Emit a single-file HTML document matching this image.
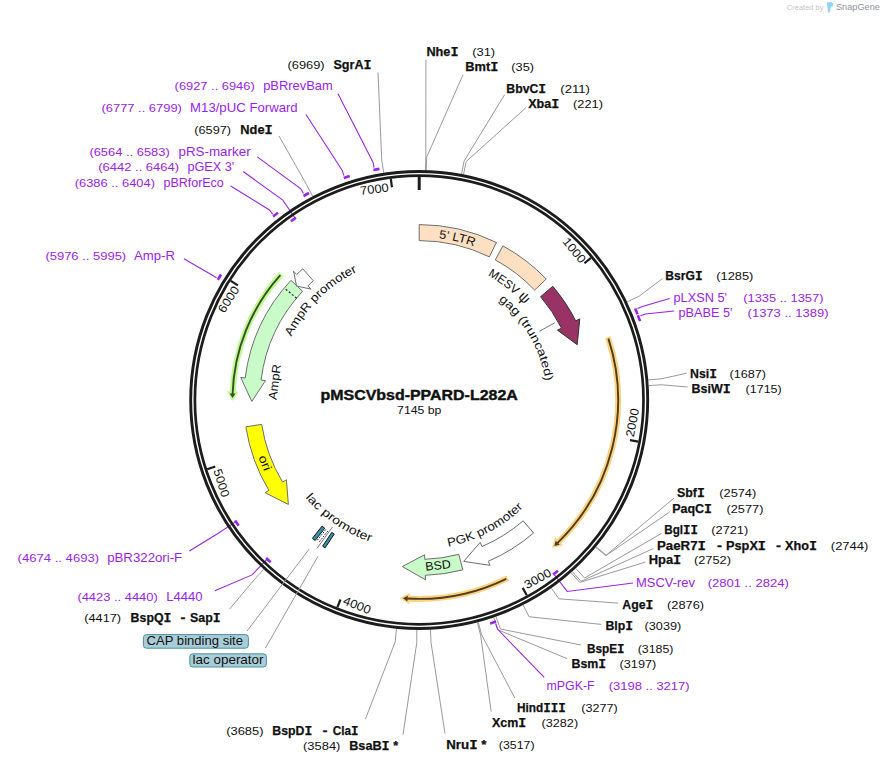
<!DOCTYPE html><html><head><meta charset="utf-8"><style>html,body{margin:0;padding:0;background:#fff}svg{display:block}</style></head><body><svg width="884" height="764" viewBox="0 0 884 764" font-family="Liberation Sans, sans-serif">
<rect width="884" height="764" fill="#fff"/>
<g fill="none" stroke="#9a9a9a" stroke-width="1">
<polyline points="383.74,172.75 381.74,159.90 378.00,72.50"/>
<polyline points="312.60,196.19 306.58,184.67 279.00,136.00"/>
<polyline points="425.47,170.09 425.82,157.09 425.90,59.90"/>
<polyline points="426.28,170.11 426.68,157.12 463.00,74.80"/>
<polyline points="461.63,173.95 464.03,161.17 504.60,94.70"/>
<polyline points="463.62,174.33 466.13,161.57 525.70,107.90"/>
<polyline points="627.22,301.87 638.97,296.32 662.30,278.70"/>
<polyline points="648.32,379.95 661.28,378.82 686.70,373.20"/>
<polyline points="648.75,385.60 661.72,384.78 687.60,387.00"/>
<polyline points="596.19,546.89 606.19,555.19 674.00,498.10"/>
<polyline points="595.80,547.35 605.78,555.68 669.60,512.10"/>
<polyline points="575.77,568.48 584.62,578.00 661.50,533.40"/>
<polyline points="572.33,571.61 580.99,581.31 653.40,548.50"/>
<polyline points="571.12,572.68 579.71,582.44 645.30,562.10"/>
<polyline points="551.43,588.19 558.90,598.83 617.90,603.10"/>
<polyline points="523.19,605.15 529.07,616.74 601.20,624.40"/>
<polyline points="496.07,616.78 500.41,629.03 580.90,645.00"/>
<polyline points="493.78,617.57 497.99,629.87 567.20,658.70"/>
<polyline points="478.30,622.28 481.64,634.84 514.80,698.00"/>
<polyline points="477.32,622.54 480.60,635.11 491.20,711.70"/>
<polyline points="430.42,629.73 431.06,642.71 445.00,733.50"/>
<polyline points="416.87,629.99 416.74,642.99 403.00,734.60"/>
<polyline points="396.48,628.88 395.20,641.81 365.40,719.20"/>
<polyline points="263.67,569.44 254.88,579.01 229.50,609.10"/>
</g>
<g fill="none" stroke="#9a22f0">
<path d="M373.40,170.02 A234.5,234.5 0 0 1 379.50,168.89" stroke-width="2.6"/>
<polyline points="374.10,167.64 373.09,162.43 338.00,93.75" stroke-width="1.05"/>
<path d="M343.84,177.94 A234.5,234.5 0 0 1 349.74,176.02" stroke-width="2.6"/>
<polyline points="343.93,175.59 342.25,170.56 306.00,114.50" stroke-width="1.05"/>
<path d="M303.54,196.01 A234.5,234.5 0 0 1 308.97,193.02" stroke-width="2.6"/>
<polyline points="303.46,193.53 300.87,188.90 257.30,156.80" stroke-width="1.05"/>
<path d="M290.90,221.28 A220.0,220.0 0 0 1 295.99,217.74" stroke-width="2.6"/>
<polyline points="295.19,218.28 282.78,200.11 243.20,171.50" stroke-width="1.05"/>
<path d="M273.07,216.60 A234.5,234.5 0 0 1 277.97,212.80" stroke-width="2.6"/>
<polyline points="272.69,214.10 269.41,209.93 230.70,186.00" stroke-width="1.05"/>
<path d="M217.82,279.85 A234.5,234.5 0 0 1 221.07,274.57" stroke-width="2.6"/>
<polyline points="216.52,277.74 211.98,275.00 183.90,258.80" stroke-width="1.05"/>
<path d="M635.16,308.60 A234.5,234.5 0 0 1 637.50,314.34" stroke-width="2.6"/>
<polyline points="637.51,308.52 642.40,306.47 669.70,298.60" stroke-width="1.05"/>
<path d="M637.87,315.29 A234.5,234.5 0 0 1 640.03,321.10" stroke-width="2.6"/>
<polyline points="640.44,315.86 645.40,313.98 674.20,311.00" stroke-width="1.05"/>
<path d="M557.95,570.73 A220.0,220.0 0 0 1 553.08,574.57" stroke-width="2.6"/>
<polyline points="553.78,574.04 567.23,591.44 633.00,583.00" stroke-width="1.05"/>
<path d="M496.12,621.53 A234.5,234.5 0 0 1 490.23,623.48" stroke-width="2.6"/>
<polyline points="495.75,623.98 497.46,628.99 544.20,677.40" stroke-width="1.05"/>
<path d="M238.61,525.65 A220.0,220.0 0 0 1 235.14,520.51" stroke-width="2.6"/>
<polyline points="235.84,521.57 217.50,533.72 189.40,551.00" stroke-width="1.05"/>
<path d="M270.65,562.27 A220.0,220.0 0 0 1 266.13,558.02" stroke-width="2.6"/>
<polyline points="267.18,559.03 251.98,574.93 214.90,590.70" stroke-width="1.05"/>
</g>
<g stroke="#6e6e6e" stroke-width="1" stroke-linejoin="miter">
<path d="M419.20,224.60 A175.4,175.4 0 0 1 496.37,242.49 L489.33,256.85 A159.4,159.4 0 0 0 419.20,240.60 Z" fill="#fde0c2"/>
<path d="M502.89,245.86 A175.4,175.4 0 0 1 546.22,279.04 L534.63,290.07 A159.4,159.4 0 0 0 495.26,259.92 Z" fill="#fde0c2"/>
<path d="M552.77,286.32 A175.4,175.4 0 0 1 575.76,320.92 L579.78,318.89 L577.19,344.67 L557.46,330.16 L561.48,328.13 A159.4,159.4 0 0 0 540.59,296.69 Z" fill="#993366" stroke="#333"/>
<path d="M290.92,280.38 A175.4,175.4 0 0 0 245.18,378.02 L240.72,377.45 L251.81,401.46 L265.52,380.59 L261.06,380.02 A159.4,159.4 0 0 1 302.62,291.29 Z" fill="#c9fbc9"/>
<path d="M302.75,268.84 A175.4,175.4 0 0 0 296.70,274.47 L293.56,271.25 L296.57,286.05 L311.02,289.14 L307.87,285.92 A159.4,159.4 0 0 1 313.37,280.80 Z" fill="#fff"/>
<path d="M245.86,426.83 A175.4,175.4 0 0 0 268.85,490.34 L265.00,492.66 L288.37,504.44 L286.42,479.78 L282.57,482.10 A159.4,159.4 0 0 1 261.68,424.39 Z" fill="#ffff00"/>
<path d="M533.58,532.98 A175.4,175.4 0 0 1 488.30,561.22 L490.07,565.35 L463.65,561.39 L480.22,542.37 L481.99,546.51 A159.4,159.4 0 0 0 523.14,520.85 Z" fill="#fff"/>
<path d="M462.82,569.89 A175.4,175.4 0 0 1 425.32,575.29 L425.48,579.79 L402.28,566.54 L424.61,554.81 L424.76,559.30 A159.4,159.4 0 0 0 458.84,554.39 Z" fill="#c9fbc9"/>
</g>
<line x1="296.56" y1="298.18" x2="284.25" y2="287.96" stroke="#222" stroke-width="1.2" stroke-dasharray="2,2"/>
<path d="M607.93,337.22 A198.9,198.9 0 0 1 558.81,541.67" fill="none" stroke="#ffd27f" stroke-width="6"/>
<path d="M563.17,545.37 L552.03,548.04 L555.15,537.27 Z" fill="#ffd27f"/>
<path d="M608.40,338.64 A198.9,198.9 0 0 1 557.37,543.07" fill="none" stroke="#4d3d22" stroke-width="1.9"/>
<path d="M559.75,544.80 L554.40,545.89 L555.71,540.64 Z" fill="#4d3d22"/>
<path d="M507.64,578.16 A198.9,198.9 0 0 1 409.06,598.64" fill="none" stroke="#ffd27f" stroke-width="6"/>
<path d="M409.29,604.36 L399.79,597.95 L409.84,592.97 Z" fill="#ffd27f"/>
<path d="M506.29,578.82 A198.9,198.9 0 0 1 407.07,598.53" fill="none" stroke="#4d3d22" stroke-width="1.9"/>
<path d="M407.40,601.45 L402.98,598.24 L407.74,595.66 Z" fill="#4d3d22"/>
<path d="M281.33,274.11 A186.7,186.7 0 0 0 232.67,392.01" fill="none" stroke="#bcfc8c" stroke-width="6"/>
<path d="M227.00,391.25 L232.50,401.30 L238.39,391.77 Z" fill="#bcfc8c"/>
<path d="M280.32,275.22 A186.7,186.7 0 0 0 232.60,394.00" fill="none" stroke="#3a4c2c" stroke-width="1.9"/>
<path d="M229.71,393.40 L232.51,398.10 L235.51,393.61 Z" fill="#3a4c2c"/>
<line x1="539.4" y1="331.3" x2="554.6" y2="322.9" stroke="#777" stroke-width="1"/>
<circle cx="419.2" cy="400.0" r="228.5" fill="none" stroke="#1c1c1c" stroke-width="2.9"/>
<circle cx="419.2" cy="400.0" r="224.3" fill="none" stroke="#1c1c1c" stroke-width="2.7"/>
<g stroke="#1c1c1c" stroke-width="2.2">
<line x1="419.20" y1="177.00" x2="419.20" y2="190.00" stroke-width="3"/>
<line x1="590.99" y1="257.81" x2="584.44" y2="263.23"/>
<line x1="638.27" y1="441.67" x2="629.92" y2="440.08"/>
<line x1="526.79" y1="595.33" x2="522.68" y2="587.89"/>
<line x1="337.33" y1="607.43" x2="340.45" y2="599.52"/>
<line x1="207.21" y1="469.19" x2="215.29" y2="466.55"/>
<line x1="230.73" y1="280.81" x2="237.91" y2="285.35"/>
<line x1="390.84" y1="178.81" x2="391.92" y2="187.24"/>
</g>
<text transform="rotate(50.38 419.2 400.0)" x="388.40" y="189.20" font-size="12" fill="#111" textLength="28.8" lengthAdjust="spacingAndGlyphs">1000</text>
<text transform="rotate(-79.23 419.2 400.0)" x="422.40" y="617.80" font-size="12" fill="#111" textLength="28.8" lengthAdjust="spacingAndGlyphs">2000</text>
<text transform="rotate(-28.85 419.2 400.0)" x="422.40" y="617.80" font-size="12" fill="#111" textLength="28.8" lengthAdjust="spacingAndGlyphs">3000</text>
<text transform="rotate(21.54 419.2 400.0)" x="422.40" y="617.80" font-size="12" fill="#111" textLength="28.8" lengthAdjust="spacingAndGlyphs">4000</text>
<text transform="rotate(71.92 419.2 400.0)" x="422.40" y="617.80" font-size="12" fill="#111" textLength="28.8" lengthAdjust="spacingAndGlyphs">5000</text>
<text transform="rotate(302.31 419.2 400.0)" x="388.00" y="189.20" font-size="12" fill="#111" textLength="28.8" lengthAdjust="spacingAndGlyphs">6000</text>
<text transform="rotate(352.69 419.2 400.0)" x="387.20" y="189.20" font-size="12" fill="#111" textLength="28.8" lengthAdjust="spacingAndGlyphs">7000</text>
<path id="tp97" d="M438.78,238.18 A163.0,163.0 0 0 1 474.15,246.54" fill="none"/>
<text font-size="12" fill="#111"><textPath href="#tp97" textLength="36.41" lengthAdjust="spacingAndGlyphs">5&#x2019; LTR</textPath></text>
<path id="tp99" d="M487.71,275.39 A142.2,142.2 0 0 1 524.54,304.48" fill="none"/>
<text font-size="12" fill="#111"><textPath href="#tp99" textLength="47.16" lengthAdjust="spacingAndGlyphs">MESV <tspan font-size="14.5">&#x3C8;</tspan></textPath></text>
<path id="tp101" d="M498.57,300.22 A127.5,127.5 0 0 1 545.30,381.15" fill="none"/>
<text font-size="12" fill="#111"><textPath href="#tp101" textLength="95.69" lengthAdjust="spacingAndGlyphs">gag (truncated)</textPath></text>
<path id="tp103" d="M291.45,336.86 A142.5,142.5 0 0 1 357.18,271.70" fill="none"/>
<text font-size="12" fill="#111"><textPath href="#tp103" textLength="94.26" lengthAdjust="spacingAndGlyphs">AmpR promoter</textPath></text>
<text transform="rotate(277.10 419.2 400.0)" x="401.35" y="258.30" font-size="12" fill="#111" textLength="35.70" lengthAdjust="spacingAndGlyphs">AmpR</text>
<text transform="rotate(67.80 419.2 400.0)" x="411.35" y="570.50" font-size="12" fill="#111" textLength="15.70" lengthAdjust="spacingAndGlyphs">ori</text>
<path id="tp107" d="M305.31,497.62 A150.0,150.0 0 0 0 370.36,541.83" fill="none"/>
<text font-size="12" fill="#111"><textPath href="#tp107" textLength="79.59" lengthAdjust="spacingAndGlyphs">lac promoter</textPath></text>
<path id="tp109" d="M448.26,546.75 A149.6,149.6 0 0 0 523.12,507.61" fill="none"/>
<text font-size="12" fill="#111"><textPath href="#tp109" textLength="85.64" lengthAdjust="spacingAndGlyphs">PGK promoter</textPath></text>
<text transform="rotate(-6.50 419.2 400.0)" x="406.35" y="570.50" font-size="12" fill="#111" textLength="25.70" lengthAdjust="spacingAndGlyphs">BSD</text>
<line x1="317.33" y1="540.24" x2="326.00" y2="529.22" stroke="#222" stroke-width="1" stroke-dasharray="1.6,1.4"/>
<line x1="319.38" y1="541.83" x2="328.05" y2="530.81" stroke="#222" stroke-width="1" stroke-dasharray="1.6,1.4"/>
<line x1="317.0" y1="548.4" x2="332.4" y2="527.1" stroke="#555" stroke-width="0.8"/>
<polygon points="315.18,540.48 324.78,528.28 322.02,526.12 312.42,538.32" fill="#3a8ca8" stroke="#1a1a1a" stroke-width="1"/>
<polygon points="325.15,547.83 334.25,534.03 331.75,532.37 322.65,546.17" fill="#3a8ca8" stroke="#1a1a1a" stroke-width="1"/>
<g stroke="#9a9a9a" stroke-width="1" fill="none">
<polyline points="247.0,631.1 309.2,549.0"/>
<polyline points="265.4,648.1 318.0,556.2"/>
</g>
<rect x="143.4" y="634.6" width="105.0" height="13.6" rx="3" ry="3" fill="#a9cdd7" stroke="#4b8fa5" stroke-width="1"/>
<rect x="189.8" y="653.8" width="76.6" height="13.2" rx="3" ry="3" fill="#a9cdd7" stroke="#4b8fa5" stroke-width="1"/>
<text x="146.60" y="645.00" font-size="12.2" font-weight="normal" fill="#111" textLength="96.40" lengthAdjust="spacingAndGlyphs">CAP binding site</text>
<text x="192.60" y="664.10" font-size="12.2" font-weight="normal" fill="#111" textLength="70.90" lengthAdjust="spacingAndGlyphs">lac operator</text>
<text x="786.8" y="10.3" font-size="8" fill="#c4c4c4" textLength="36.7" lengthAdjust="spacingAndGlyphs">Created by</text>
<path d="M826.9,2.4 L831.2,2.0 L833.5,3.8 L833.0,6.2 L831.0,6.8 L829.7,12.4 L828.0,12.3 Z" fill="#8ed5f8"/>
<text x="835.9" y="10.3" font-size="8.6" fill="#8f959c" textLength="44.1" lengthAdjust="spacingAndGlyphs">SnapGene</text>
<text x="287.50" y="68.80" font-size="11.3" font-weight="normal" fill="#111" textLength="37.10" lengthAdjust="spacingAndGlyphs">(6969)</text>
<text x="333.40" y="68.80" font-size="12.6" font-weight="bold" fill="#111" stroke="#111" stroke-width="0.25" textLength="38.10" lengthAdjust="spacingAndGlyphs">SgrA<tspan font-family="Liberation Mono" font-size="1.06em">I</tspan></text>
<text x="174.60" y="90.40" font-size="11.3" font-weight="normal" fill="#9a22f0" textLength="80.10" lengthAdjust="spacingAndGlyphs">(6927 .. 6946)</text>
<text x="263.20" y="90.40" font-size="12.6" font-weight="normal" fill="#9a22f0" textLength="69.60" lengthAdjust="spacingAndGlyphs">pBRrevBam</text>
<text x="101.50" y="112.40" font-size="11.3" font-weight="normal" fill="#9a22f0" textLength="80.40" lengthAdjust="spacingAndGlyphs">(6777 .. 6799)</text>
<text x="190.10" y="112.40" font-size="12.6" font-weight="normal" fill="#9a22f0" textLength="107.60" lengthAdjust="spacingAndGlyphs">M13/pUC Forward</text>
<text x="194.30" y="134.40" font-size="11.3" font-weight="normal" fill="#111" textLength="36.80" lengthAdjust="spacingAndGlyphs">(6597)</text>
<text x="240.30" y="134.40" font-size="12.6" font-weight="bold" fill="#111" stroke="#111" stroke-width="0.25" textLength="32.40" lengthAdjust="spacingAndGlyphs">Nde<tspan font-family="Liberation Mono" font-size="1.06em">I</tspan></text>
<text x="89.40" y="156.20" font-size="11.3" font-weight="normal" fill="#9a22f0" textLength="80.30" lengthAdjust="spacingAndGlyphs">(6564 .. 6583)</text>
<text x="178.50" y="156.20" font-size="12.6" font-weight="normal" fill="#9a22f0" textLength="72.10" lengthAdjust="spacingAndGlyphs">pRS-marker</text>
<text x="98.20" y="171.20" font-size="11.3" font-weight="normal" fill="#9a22f0" textLength="80.90" lengthAdjust="spacingAndGlyphs">(6442 .. 6464)</text>
<text x="187.40" y="171.20" font-size="12.6" font-weight="normal" fill="#9a22f0" textLength="46.70" lengthAdjust="spacingAndGlyphs">pGEX 3'</text>
<text x="74.70" y="186.50" font-size="11.3" font-weight="normal" fill="#9a22f0" textLength="80.30" lengthAdjust="spacingAndGlyphs">(6386 .. 6404)</text>
<text x="163.50" y="186.50" font-size="12.6" font-weight="normal" fill="#9a22f0" textLength="60.30" lengthAdjust="spacingAndGlyphs">pBRforEco</text>
<text x="45.40" y="259.50" font-size="11.3" font-weight="normal" fill="#9a22f0" textLength="80.80" lengthAdjust="spacingAndGlyphs">(5976 .. 5995)</text>
<text x="134.00" y="259.50" font-size="12.6" font-weight="normal" fill="#9a22f0" textLength="40.90" lengthAdjust="spacingAndGlyphs">Amp-R</text>
<text x="426.40" y="55.90" font-size="12.6" font-weight="bold" fill="#111" stroke="#111" stroke-width="0.25" textLength="32.10" lengthAdjust="spacingAndGlyphs">Nhe<tspan font-family="Liberation Mono" font-size="1.06em">I</tspan></text>
<text x="472.20" y="55.90" font-size="11.3" font-weight="normal" fill="#111" textLength="22.90" lengthAdjust="spacingAndGlyphs">(31)</text>
<text x="465.30" y="71.10" font-size="12.6" font-weight="bold" fill="#111" stroke="#111" stroke-width="0.25" textLength="33.10" lengthAdjust="spacingAndGlyphs">Bmt<tspan font-family="Liberation Mono" font-size="1.06em">I</tspan></text>
<text x="511.30" y="71.10" font-size="11.3" font-weight="normal" fill="#111" textLength="22.70" lengthAdjust="spacingAndGlyphs">(35)</text>
<text x="506.30" y="92.70" font-size="12.6" font-weight="bold" fill="#111" stroke="#111" stroke-width="0.25" textLength="39.80" lengthAdjust="spacingAndGlyphs">BbvC<tspan font-family="Liberation Mono" font-size="1.06em">I</tspan></text>
<text x="560.30" y="92.70" font-size="11.3" font-weight="normal" fill="#111" textLength="29.70" lengthAdjust="spacingAndGlyphs">(211)</text>
<text x="528.20" y="107.90" font-size="12.6" font-weight="bold" fill="#111" stroke="#111" stroke-width="0.25" textLength="31.10" lengthAdjust="spacingAndGlyphs">Xba<tspan font-family="Liberation Mono" font-size="1.06em">I</tspan></text>
<text x="573.00" y="107.90" font-size="11.3" font-weight="normal" fill="#111" textLength="29.90" lengthAdjust="spacingAndGlyphs">(221)</text>
<text x="665.30" y="279.90" font-size="12.6" font-weight="bold" fill="#111" stroke="#111" stroke-width="0.25" textLength="37.30" lengthAdjust="spacingAndGlyphs">BsrG<tspan font-family="Liberation Mono" font-size="1.06em">I</tspan></text>
<text x="716.30" y="279.90" font-size="11.3" font-weight="normal" fill="#111" textLength="37.10" lengthAdjust="spacingAndGlyphs">(1285)</text>
<text x="673.50" y="302.30" font-size="12.6" font-weight="normal" fill="#9a22f0" textLength="53.50" lengthAdjust="spacingAndGlyphs">pLXSN 5'</text>
<text x="743.20" y="302.30" font-size="11.3" font-weight="normal" fill="#9a22f0" textLength="80.30" lengthAdjust="spacingAndGlyphs">(1335 .. 1357)</text>
<text x="678.40" y="317.20" font-size="12.6" font-weight="normal" fill="#9a22f0" textLength="54.00" lengthAdjust="spacingAndGlyphs">pBABE 5'</text>
<text x="747.60" y="317.20" font-size="11.3" font-weight="normal" fill="#9a22f0" textLength="80.90" lengthAdjust="spacingAndGlyphs">(1373 .. 1389)</text>
<text x="690.10" y="378.20" font-size="12.6" font-weight="bold" fill="#111" stroke="#111" stroke-width="0.25" textLength="26.90" lengthAdjust="spacingAndGlyphs">Nsi<tspan font-family="Liberation Mono" font-size="1.06em">I</tspan></text>
<text x="729.50" y="378.20" font-size="11.3" font-weight="normal" fill="#111" textLength="36.50" lengthAdjust="spacingAndGlyphs">(1687)</text>
<text x="691.60" y="393.20" font-size="12.6" font-weight="bold" fill="#111" stroke="#111" stroke-width="0.25" textLength="39.10" lengthAdjust="spacingAndGlyphs">BsiW<tspan font-family="Liberation Mono" font-size="1.06em">I</tspan></text>
<text x="745.60" y="393.20" font-size="11.3" font-weight="normal" fill="#111" textLength="36.10" lengthAdjust="spacingAndGlyphs">(1715)</text>
<text x="676.90" y="497.40" font-size="12.6" font-weight="bold" fill="#111" stroke="#111" stroke-width="0.25" textLength="27.90" lengthAdjust="spacingAndGlyphs">Sbf<tspan font-family="Liberation Mono" font-size="1.06em">I</tspan></text>
<text x="719.30" y="497.40" font-size="11.3" font-weight="normal" fill="#111" textLength="36.90" lengthAdjust="spacingAndGlyphs">(2574)</text>
<text x="672.20" y="512.60" font-size="12.6" font-weight="bold" fill="#111" stroke="#111" stroke-width="0.25" textLength="39.80" lengthAdjust="spacingAndGlyphs">PaqC<tspan font-family="Liberation Mono" font-size="1.06em">I</tspan></text>
<text x="726.50" y="512.60" font-size="11.3" font-weight="normal" fill="#111" textLength="36.90" lengthAdjust="spacingAndGlyphs">(2577)</text>
<text x="664.20" y="534.30" font-size="12.6" font-weight="bold" fill="#111" stroke="#111" stroke-width="0.25" textLength="33.80" lengthAdjust="spacingAndGlyphs">Bgl<tspan font-family="Liberation Mono" font-size="1.06em">I</tspan><tspan font-family="Liberation Mono" font-size="1.06em">I</tspan></text>
<text x="711.30" y="534.30" font-size="11.3" font-weight="normal" fill="#111" textLength="36.90" lengthAdjust="spacingAndGlyphs">(2721)</text>
<text x="657.00" y="549.50" font-size="12.6" font-weight="bold" fill="#111" stroke="#111" stroke-width="0.25" textLength="49.00" lengthAdjust="spacingAndGlyphs">PaeR7<tspan font-family="Liberation Mono" font-size="1.06em">I</tspan></text>
<text x="717.00" y="549.50" font-size="12.6" font-weight="bold" fill="#111" stroke="#111" stroke-width="0.25" textLength="5.00" lengthAdjust="spacingAndGlyphs">-</text>
<text x="726.00" y="549.50" font-size="12.6" font-weight="bold" fill="#111" stroke="#111" stroke-width="0.25" textLength="40.00" lengthAdjust="spacingAndGlyphs">PspX<tspan font-family="Liberation Mono" font-size="1.06em">I</tspan></text>
<text x="776.00" y="549.50" font-size="12.6" font-weight="bold" fill="#111" stroke="#111" stroke-width="0.25" textLength="5.00" lengthAdjust="spacingAndGlyphs">-</text>
<text x="785.00" y="549.50" font-size="12.6" font-weight="bold" fill="#111" stroke="#111" stroke-width="0.25" textLength="32.00" lengthAdjust="spacingAndGlyphs">Xho<tspan font-family="Liberation Mono" font-size="1.06em">I</tspan></text>
<text x="830.80" y="549.50" font-size="11.3" font-weight="normal" fill="#111" textLength="37.60" lengthAdjust="spacingAndGlyphs">(2744)</text>
<text x="648.70" y="564.00" font-size="12.6" font-weight="bold" fill="#111" stroke="#111" stroke-width="0.25" textLength="32.60" lengthAdjust="spacingAndGlyphs">Hpa<tspan font-family="Liberation Mono" font-size="1.06em">I</tspan></text>
<text x="693.90" y="564.00" font-size="11.3" font-weight="normal" fill="#111" textLength="37.00" lengthAdjust="spacingAndGlyphs">(2752)</text>
<text x="636.00" y="586.80" font-size="12.6" font-weight="normal" fill="#9a22f0" textLength="59.00" lengthAdjust="spacingAndGlyphs">MSCV-rev</text>
<text x="707.70" y="586.80" font-size="11.3" font-weight="normal" fill="#9a22f0" textLength="81.10" lengthAdjust="spacingAndGlyphs">(2801 .. 2824)</text>
<text x="622.30" y="608.50" font-size="12.6" font-weight="bold" fill="#111" stroke="#111" stroke-width="0.25" textLength="31.10" lengthAdjust="spacingAndGlyphs">Age<tspan font-family="Liberation Mono" font-size="1.06em">I</tspan></text>
<text x="667.10" y="608.50" font-size="11.3" font-weight="normal" fill="#111" textLength="37.00" lengthAdjust="spacingAndGlyphs">(2876)</text>
<text x="605.40" y="630.40" font-size="12.6" font-weight="bold" fill="#111" stroke="#111" stroke-width="0.25" textLength="27.70" lengthAdjust="spacingAndGlyphs">Blp<tspan font-family="Liberation Mono" font-size="1.06em">I</tspan></text>
<text x="644.60" y="630.40" font-size="11.3" font-weight="normal" fill="#111" textLength="36.60" lengthAdjust="spacingAndGlyphs">(3039)</text>
<text x="586.90" y="652.70" font-size="12.6" font-weight="bold" fill="#111" stroke="#111" stroke-width="0.25" textLength="37.70" lengthAdjust="spacingAndGlyphs">BspE<tspan font-family="Liberation Mono" font-size="1.06em">I</tspan></text>
<text x="637.70" y="652.70" font-size="11.3" font-weight="normal" fill="#111" textLength="35.80" lengthAdjust="spacingAndGlyphs">(3185)</text>
<text x="571.50" y="667.70" font-size="12.6" font-weight="bold" fill="#111" stroke="#111" stroke-width="0.25" textLength="34.70" lengthAdjust="spacingAndGlyphs">Bsm<tspan font-family="Liberation Mono" font-size="1.06em">I</tspan></text>
<text x="619.60" y="667.70" font-size="11.3" font-weight="normal" fill="#111" textLength="36.60" lengthAdjust="spacingAndGlyphs">(3197)</text>
<text x="546.50" y="690.00" font-size="12.6" font-weight="normal" fill="#9a22f0" textLength="48.10" lengthAdjust="spacingAndGlyphs">mPGK-F</text>
<text x="608.80" y="690.00" font-size="11.3" font-weight="normal" fill="#9a22f0" textLength="80.80" lengthAdjust="spacingAndGlyphs">(3198 .. 3217)</text>
<text x="516.90" y="711.50" font-size="12.6" font-weight="bold" fill="#111" stroke="#111" stroke-width="0.25" textLength="48.90" lengthAdjust="spacingAndGlyphs">Hind<tspan font-family="Liberation Mono" font-size="1.06em">I</tspan><tspan font-family="Liberation Mono" font-size="1.06em">I</tspan><tspan font-family="Liberation Mono" font-size="1.06em">I</tspan></text>
<text x="581.20" y="711.50" font-size="11.3" font-weight="normal" fill="#111" textLength="36.50" lengthAdjust="spacingAndGlyphs">(3277)</text>
<text x="491.90" y="726.50" font-size="12.6" font-weight="bold" fill="#111" stroke="#111" stroke-width="0.25" textLength="34.30" lengthAdjust="spacingAndGlyphs">Xcm<tspan font-family="Liberation Mono" font-size="1.06em">I</tspan></text>
<text x="541.50" y="726.50" font-size="11.3" font-weight="normal" fill="#111" textLength="36.60" lengthAdjust="spacingAndGlyphs">(3282)</text>
<text x="446.20" y="749.40" font-size="12.6" font-weight="bold" fill="#111" stroke="#111" stroke-width="0.25" textLength="40.30" lengthAdjust="spacingAndGlyphs">Nru<tspan font-family="Liberation Mono" font-size="1.06em">I</tspan> *</text>
<text x="498.80" y="749.40" font-size="11.3" font-weight="normal" fill="#111" textLength="35.80" lengthAdjust="spacingAndGlyphs">(3517)</text>
<text x="226.20" y="735.00" font-size="11.3" font-weight="normal" fill="#111" textLength="37.30" lengthAdjust="spacingAndGlyphs">(3685)</text>
<text x="272.30" y="735.00" font-size="12.6" font-weight="bold" fill="#111" stroke="#111" stroke-width="0.25" textLength="40.00" lengthAdjust="spacingAndGlyphs">BspD<tspan font-family="Liberation Mono" font-size="1.06em">I</tspan></text>
<text x="322.50" y="735.00" font-size="12.6" font-weight="bold" fill="#111" stroke="#111" stroke-width="0.25" textLength="5.00" lengthAdjust="spacingAndGlyphs">-</text>
<text x="332.70" y="735.00" font-size="12.6" font-weight="bold" fill="#111" stroke="#111" stroke-width="0.25" textLength="25.80" lengthAdjust="spacingAndGlyphs">Cla<tspan font-family="Liberation Mono" font-size="1.06em">I</tspan></text>
<text x="303.00" y="750.00" font-size="11.3" font-weight="normal" fill="#111" textLength="37.40" lengthAdjust="spacingAndGlyphs">(3584)</text>
<text x="349.20" y="750.00" font-size="12.6" font-weight="bold" fill="#111" stroke="#111" stroke-width="0.25" textLength="48.90" lengthAdjust="spacingAndGlyphs">BsaB<tspan font-family="Liberation Mono" font-size="1.06em">I</tspan> *</text>
<text x="17.60" y="562.20" font-size="11.3" font-weight="normal" fill="#9a22f0" textLength="81.50" lengthAdjust="spacingAndGlyphs">(4674 .. 4693)</text>
<text x="107.20" y="562.20" font-size="12.6" font-weight="normal" fill="#9a22f0" textLength="75.00" lengthAdjust="spacingAndGlyphs">pBR322ori-F</text>
<text x="77.40" y="600.60" font-size="11.3" font-weight="normal" fill="#9a22f0" textLength="80.40" lengthAdjust="spacingAndGlyphs">(4423 .. 4440)</text>
<text x="166.30" y="600.60" font-size="12.6" font-weight="normal" fill="#9a22f0" textLength="36.30" lengthAdjust="spacingAndGlyphs">L4440</text>
<text x="84.20" y="622.30" font-size="11.3" font-weight="normal" fill="#111" textLength="36.90" lengthAdjust="spacingAndGlyphs">(4417)</text>
<text x="130.60" y="622.30" font-size="12.6" font-weight="bold" fill="#111" stroke="#111" stroke-width="0.25" textLength="40.80" lengthAdjust="spacingAndGlyphs">BspQ<tspan font-family="Liberation Mono" font-size="1.06em">I</tspan></text>
<text x="180.50" y="622.30" font-size="12.6" font-weight="bold" fill="#111" stroke="#111" stroke-width="0.25" textLength="5.00" lengthAdjust="spacingAndGlyphs">-</text>
<text x="190.00" y="622.30" font-size="12.6" font-weight="bold" fill="#111" stroke="#111" stroke-width="0.25" textLength="30.60" lengthAdjust="spacingAndGlyphs">Sap<tspan font-family="Liberation Mono" font-size="1.06em">I</tspan></text>
<text x="320.50" y="399.70" font-size="14.3" font-weight="bold" fill="#111" stroke="#111" stroke-width="0.4" textLength="197.30" lengthAdjust="spacingAndGlyphs">pMSCVbsd-PPARD-L282A</text>
<text x="397.10" y="413.60" font-size="11" font-weight="normal" fill="#111" textLength="44.30" lengthAdjust="spacingAndGlyphs">7145 bp</text>
</svg></body></html>
